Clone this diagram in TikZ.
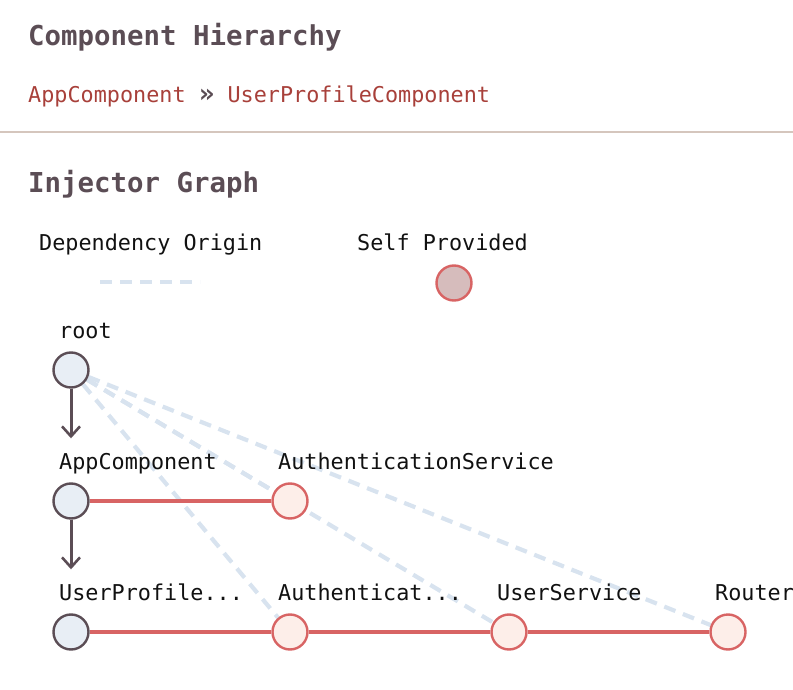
\documentclass[tikz,border=0pt]{standalone}
\usepackage{fontspec}
\newfontfamily\mono{DejaVu Sans Mono}
\usetikzlibrary{arrows.meta,backgrounds}
\definecolor{titlec}{HTML}{5B4D55}
\definecolor{crumb}{HTML}{A8403A}
\definecolor{sep}{HTML}{D5C6BD}
\definecolor{dep}{HTML}{D8E3EF}
\definecolor{redline}{HTML}{D86464}
\definecolor{redfill}{HTML}{FDEEE9}
\definecolor{bluefill}{HTML}{E8EEF5}
\definecolor{selffill}{HTML}{D6BCBC}
\definecolor{labelc}{HTML}{111111}
\tikzset{
  hnode/.style={circle,draw=titlec,fill=bluefill,line width=2.4pt,minimum size=35pt,inner sep=0pt},
  pnode/.style={circle,draw=redline,fill=redfill,line width=2.4pt,minimum size=35pt,inner sep=0pt},
  selfnode/.style={circle,draw=redline,fill=selffill,line width=2.4pt,minimum size=35pt,inner sep=0pt},
  lbl/.style={anchor=base west,inner sep=0pt,text=labelc,font=\mono\fontsize{21.8}{26}\selectfont},
  ttl/.style={anchor=base west,inner sep=0pt,text=titlec,font=\mono\bfseries\fontsize{27.4}{32}\selectfont},
  parentarrow/.style={draw=titlec,line width=3pt,-{Straight Barb[length=10pt,width=18pt,line width=2.6pt]},shorten >=44pt},
  provline/.style={draw=redline,line width=4pt},
  depline/.style={draw=dep,line width=4.2pt,dash pattern=on 12pt off 8pt},
}
\begin{document}
\begin{tikzpicture}[x=1pt,y=-1pt]
\useasboundingbox (0,0) rectangle (793,690);
% header
\node[ttl] (title) at (28,46) {Component Hierarchy};
\node[lbl] (crumbs) at (28,103) {{\color{crumb}AppComponent} {\color{titlec}\bfseries\fontsize{26}{26}\selectfont»} {\color{crumb}UserProfileComponent}};
\coordinate (sepL) at (0,132);
\coordinate (sepR) at (793,132);
\draw[sep,line width=2pt] (sepL) -- (sepR);
\node[ttl] (graphtitle) at (28,193) {Injector Graph};
% legend
\node[lbl] (legdep) at (39,250) {Dependency Origin};
\node[lbl] (legself) at (357,250) {Self Provided};
\coordinate (legA) at (100,282);
\coordinate (legB) at (200,282);
\draw[depline] (legA) -- (legB);
\node[selfnode] (selfc) at (454,283) {};
% nodes
\node[hnode] (root) at (71,370) {};
\node[hnode] (app) at (71,501) {};
\node[hnode] (upc) at (71,632) {};
\node[pnode] (auth1) at (290,501) {};
\node[pnode] (auth2) at (290,632) {};
\node[pnode] (usvc) at (509,632) {};
\node[pnode] (router) at (728,632) {};
% labels
\node[lbl] (lroot) at (59,338) {root};
\node[lbl] (lapp) at (59,469) {AppComponent};
\node[lbl] (lupc) at (59,600) {UserProfile...};
\node[lbl] (lauth1) at (278,469) {AuthenticationService};
\node[lbl] (lauth2) at (278,600) {Authenticat...};
\node[lbl] (lusvc) at (497,600) {UserService};
\node[lbl] (lrouter) at (715,600) {Router};
% edges
\begin{pgfonlayer}{background}
\draw[depline] (root) -- (auth1);
\draw[depline] (root) -- (auth2);
\draw[depline] (root) -- (usvc);
\draw[depline] (root) -- (router);
\end{pgfonlayer}
\draw[parentarrow] (root) -- (app);
\draw[parentarrow] (app) -- (upc);
\draw[provline] (app) -- (auth1);
\draw[provline] (upc) -- (auth2);
\draw[provline] (auth2) -- (usvc);
\draw[provline] (usvc) -- (router);
\end{tikzpicture}
\end{document}
